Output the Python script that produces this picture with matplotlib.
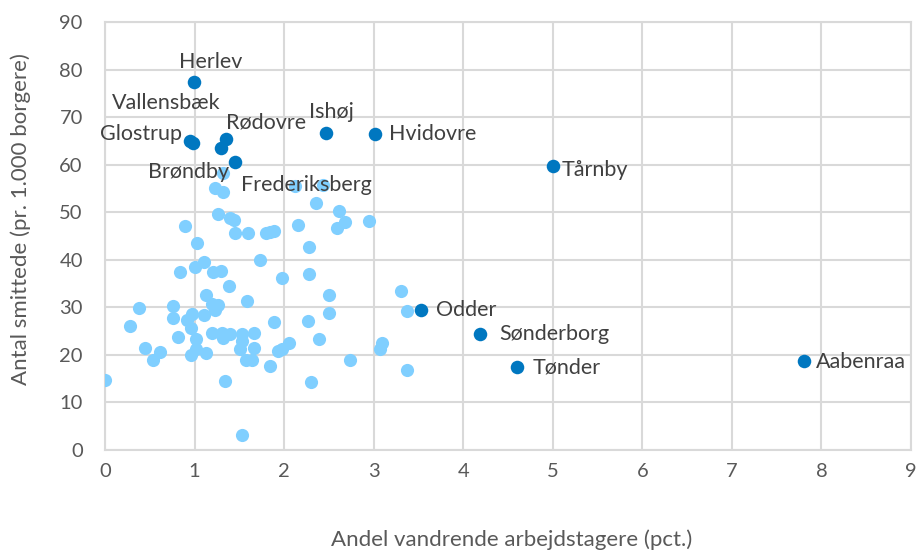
import numpy as np
import matplotlib
matplotlib.use('Agg')
import matplotlib.pyplot as plt

plt.rcParams['font.family'] = ['Lato', 'DejaVu Sans']

# light blue points: other municipalities
other_x = [0.00, 0.28, 0.38, 0.45, 0.54, 0.61, 0.76, 0.76, 0.81, 0.84,
           0.89, 0.91, 0.97, 0.96, 0.96, 1.02, 1.02, 1.00, 1.03, 1.10,
           1.11, 1.13, 1.13, 1.19, 1.20, 1.21, 1.23, 1.23, 1.26, 1.26,
           1.30, 1.31, 1.32, 1.32, 1.32, 1.34, 1.38, 1.40, 1.40, 1.44,
           1.45, 1.51, 1.53, 1.53, 1.53, 1.57, 1.59, 1.60, 1.64, 1.66,
           1.66, 1.73, 1.80, 1.84, 1.89, 1.84, 1.89, 1.93, 1.98, 1.98,
           2.05, 2.12, 2.15, 2.27, 2.28, 2.28, 2.30, 2.36, 2.39, 2.43,
           2.50, 2.50, 2.59, 2.61, 2.68, 2.74, 2.95, 3.07, 3.09, 3.30,
           3.37, 3.37]
other_y = [14.8, 26.1, 29.9, 21.5, 18.9, 20.7, 30.3, 27.7, 23.7, 37.4,
           47.2, 27.3, 28.7, 25.6, 20.0, 21.2, 23.3, 38.5, 43.6, 39.5,
           28.3, 32.7, 20.3, 30.8, 24.5, 37.5, 29.4, 55.0, 30.5, 49.6,
           37.6, 24.7, 23.5, 58.2, 54.3, 14.5, 34.5, 24.3, 48.8, 48.4,
           45.7, 21.2, 24.3, 23.0, 3.2, 18.9, 31.4, 45.6, 18.9, 24.5,
           21.5, 39.9, 45.7, 45.9, 46.1, 17.7, 27.0, 20.9, 21.2, 36.2,
           22.6, 55.6, 47.3, 27.2, 42.6, 37.0, 14.3, 51.9, 23.3, 55.8,
           32.7, 28.9, 46.7, 50.3, 48.0, 18.9, 48.2, 21.2, 22.6, 33.5,
           29.3, 16.8]

# dark blue points: named municipalities
named = ['Herlev', 'Vallensbæk', 'Glostrup', 'Rødovre', 'Frederiksberg',
         'Brøndby', 'Ishøj', 'Hvidovre', 'Tårnby', 'Odder', 'Sønderborg',
         'Tønder', 'Aabenraa']
named_x = [0.99, 0.95, 0.98, 1.35, 1.30, 1.45, 2.47, 3.02, 5.00, 3.53, 4.19, 4.60, 7.80]
named_y = [77.4, 65.0, 64.6, 65.4, 63.6, 60.5, 66.7, 66.4, 59.7, 29.4, 24.4, 17.4, 18.7]

# label placement (offset in points, horizontal alignment)
label_pos = {
    'Herlev': ((12, 14), 'center'),
    'Vallensbæk': ((-17, 27), 'center'),
    'Glostrup': ((-37, 6), 'center'),
    'Rødovre': ((29, 12), 'center'),
    'Frederiksberg': ((61, -27), 'center'),
    'Brøndby': ((-33, -7), 'center'),
    'Ishøj': ((4, 15), 'center'),
    'Hvidovre': ((10, 0), 'left'),
    'Tårnby': ((6, -3), 'left'),
    'Odder': ((11, 0), 'left'),
    'Sønderborg': ((14, 0), 'left'),
    'Tønder': ((11, 0), 'left'),
    'Aabenraa': ((9, -1), 'left'),
}

text_col = '#404040'
grid_col = '#D9D9D9'

fig = plt.figure(figsize=(9.18, 5.54), dpi=100)
ax = fig.add_axes([0.1144, 0.1877, 0.8780, 0.7726])

ax.scatter(other_x, other_y, s=90, color='#80CFFF', zorder=3, linewidths=0)
ax.scatter(named_x, named_y, s=95, color='#0077C0', zorder=4, linewidths=0)

for name, x, y in zip(named, named_x, named_y):
    off, ha = label_pos[name]
    ax.annotate(name, (x, y), xytext=off, textcoords='offset points',
                ha=ha, va='center', fontsize=15.5, color=text_col, zorder=5)

ax.set_xlim(0, 9)
ax.set_ylim(0, 90)
ax.set_xticks(np.arange(0, 10, 1))
ax.set_yticks(np.arange(0, 100, 10))
ax.grid(True, color=grid_col, linewidth=1.5, zorder=0)
ax.set_axisbelow(True)
for sp in ax.spines.values():
    sp.set_color(grid_col)
    sp.set_linewidth(1.5)
ax.tick_params(length=0, labelsize=14.5, labelcolor='#595959')
ax.tick_params(axis='x', pad=9)
ax.tick_params(axis='y', pad=16)

ax.set_xlabel('Andel vandrende arbejdstagere (pct.)', fontsize=16, color='#595959')
ax.set_ylabel('Antal smittede (pr. 1.000 borgere)', fontsize=16, color='#595959')
ax.xaxis.set_label_coords(0.505, -0.185)
ax.yaxis.set_label_coords(-0.092, 0.54)

fig.savefig('out.png', dpi=100)
